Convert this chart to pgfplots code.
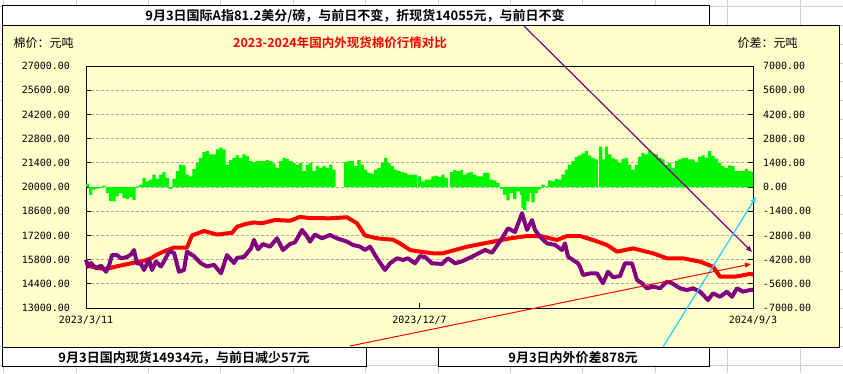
\documentclass[border=0pt]{standalone}
\usepackage{pgfplots}
\pgfplotsset{compat=1.18}
\usepackage{pgfplotstable}
\usepackage{fontspec}
\usetikzlibrary{arrows.meta}
\setmainfont{Liberation Sans}
\setmonofont{DejaVu Sans Mono}
\newfontfamily\cjk{Noto Sans CJK SC}[BoldFont={Noto Sans CJK SC Bold}]
\definecolor{chartbg}{RGB}{255,255,204}
\definecolor{xlgrid}{RGB}{208,208,208}
\definecolor{dompr}{RGB}{255,0,0}
\definecolor{intpr}{RGB}{128,0,128}
\definecolor{barg}{RGB}{0,245,0}
\definecolor{cyanarr}{RGB}{51,204,255}

\pgfplotstableread{
x y
0 15450
10 15350
18 15250
23 15300
34 15450
48 15620
59 15750
65 15870
70 16060
79 16300
88 16500
101 16500
106 17200
118 17450
131 17250
146 17350
151 17700
159 17850
168 17950
176 17900
189 18090
204 18050
214 18270
224 18200
244 18190
261 18250
271 17900
279 17200
291 17030
307 16950
314 16740
324 16355
334 16260
347 16165
357 16165
381 16545
407 16840
424 17030
441 17165
454 17165
471 16935
481 17165
494 17165
507 16935
521 16645
531 16260
547 16450
567 16165
581 15875
597 15875
614 15680
627 15390
634 14810
649 14810
664 14970
667 14934
}\domestic

\pgfplotstableread{
x y
0 15800
2 15390
5 15600
10 15300
15 15450
20 15100
23 15450
26 16060
31 16060
35 15875
41 15950
45 16100
48 16355
51 15585
55 15550
58 15200
63 15800
66 15200
70 15700
75 15400
78 15700
83 16260
88 16200
93 15100
98 15200
101 16260
108 16000
115 15585
121 15400
128 15500
135 15010
141 16060
148 15600
151 15900
158 15950
165 16450
168 16935
172 16400
177 16700
184 16545
191 17030
197 16355
204 16700
209 16800
216 17515
221 17150
224 16840
229 17250
236 17030
244 17225
251 17030
261 16840
267 16645
274 16550
279 16355
284 16550
291 15875
299 15200
304 15585
311 15875
317 15780
322 15875
329 15585
334 16000
339 15950
346 15585
356 15550
362 15875
369 15585
376 15700
386 15970
399 16355
406 16200
416 17030
422 17610
429 17400
436 18480
441 17515
446 18090
449 17515
454 17125
461 16740
469 16650
476 16355
479 16740
482 15970
489 15700
492 15585
494 15390
497 14910
504 15000
511 15000
517 14430
522 15100
527 14780
534 14850
539 15585
546 15585
551 14620
556 14430
561 14140
567 14240
574 14140
581 14525
586 14430
594 14140
601 14040
607 14140
614 13945
622 13460
627 13850
634 13650
641 13945
646 13650
651 14140
657 13945
664 14040
667 14055
}\international

\pgfplotstableread{
x y
1.3 195
4.7 -450
8 -155
11.3 -100
14.7 -60
18 80
21.3 -350
24.7 -800
28 -835
31.3 -545
34.7 -350
38 -640
41.3 -700
44.7 -585
48 -740
51.3 40
54.7 135
58 525
61.3 330
64.7 430
68 720
71.3 465
74.7 720
78 855
81.3 525
84.7 -115
88 465
91.3 915
94.7 1300
98 1245
101.3 720
104.7 620
108 1050
111.3 1400
114.7 1690
118 2020
121.3 2080
124.7 1885
128 1885
131.3 2180
134.7 2275
138 2180
141.3 1300
144.7 1555
148 1690
151.3 1830
154.7 1690
158 1885
161.3 1790
164.7 1500
168 1440
171.3 1500
174.7 1500
178 1500
181.3 1555
184.7 1500
188 1360
191.3 1110
194.7 1500
198 1690
201.3 1630
204.7 1500
208 1400
211.3 1300
214.7 1400
218 915
221.3 1300
224.7 1400
228 915
231.3 1205
234.7 1110
238 1205
241.3 1110
244.7 1300
248 1010
259.7 1440
263 1500
266.3 1500
269.7 1205
273 1555
276.3 1300
279.7 1010
283 815
286.3 780
289.7 1010
293 1110
296.3 1400
299.7 1690
303 1400
306.3 1205
309.7 1010
313 915
316.3 855
319.7 815
323 720
326.3 720
329.7 720
333.7 620
337 330
340.3 430
343.7 430
347 620
350.3 660
353.7 585
357 720
360.3 525
365.3 855
368.7 970
372 915
375.3 970
378.7 720
382 815
385.3 855
388.7 720
392 620
395.3 620
398.7 815
402 815
405.3 430
408.7 390
412 235
415.3 -115
418.7 -450
422 -780
425.3 -350
428.7 -700
432 -255
435.3 -450
437 -1225
438.7 -1320
442 -835
445.3 -350
447 -895
450.3 -350
453.7 -155
457 135
460.3 40
463.7 390
467 330
470.3 465
473.7 430
477 720
480.3 1010
483.7 1300
487 1500
490.3 1750
493.7 1830
497 1945
500.3 2080
503.7 1830
507 1690
510.3 1595
514.7 2335
517 1595
520.3 2335
523.7 1885
527 1690
530.3 1595
533.7 1400
537 1630
540.3 1690
543.7 1300
547 1010
550.3 1300
553.7 1750
557 1980
560.3 1885
563.7 2140
567 1980
570.3 1885
573.7 1690
577 1595
580.3 1300
583.7 1400
587 1110
590.3 1500
593.7 1595
597 1690
600.3 1690
603.7 1595
607 1595
610.3 1440
613.7 1750
617 1830
620.3 1690
623.7 2080
627 1790
630.3 1630
633.7 1400
637 1205
640.3 1110
643.7 1245
647 1205
650.3 915
653.7 915
657 915
660.3 1050
663.7 915
666.5 878
}\spread

\begin{document}
\begin{tikzpicture}
\useasboundingbox (0pt,0pt) rectangle (843pt,373pt);
\begin{scope}[x=1pt,y=1pt]
\fill[white] (0,0) rectangle (843,373);
% spreadsheet cell grid
\foreach \k in {0,...,19} {\draw[xlgrid,line width=0.8pt] (0,{373-6.3-18.9*\k}) -- (843,{373-6.3-18.9*\k});}
\foreach \k in {0,...,11} {\draw[xlgrid,line width=0.8pt] ({3.6+72.4*\k},0) -- ({3.6+72.4*\k},373);}
% chart area
\filldraw[fill=chartbg,draw=black,line width=1pt] (2,{373-25.2}) rectangle (839,{373-347.4});
% text boxes
\filldraw[fill=white,draw=black,line width=1pt] (2,{373-6}) rectangle (709,{373-25.2});
\filldraw[fill=white,draw=black,line width=1pt] (2,{373-347.4}) rectangle (366,{373-366.3});
\filldraw[fill=white,draw=black,line width=1pt] (438,{373-347.4}) rectangle (709,{373-366.3});
\node[font=\cjk\bfseries\fontsize{13}{14}\selectfont] at (355,{373-16}) {9月3日国际A指81.2美分/磅，与前日不变，折现货14055元，与前日不变};
\node[font=\cjk\bfseries\fontsize{13}{14}\selectfont] at (184,{373-358}) {9月3日国内现货14934元，与前日减少57元};
\node[font=\cjk\bfseries\fontsize{13}{14}\selectfont] at (573,{373-358}) {9月3日内外价差878元};
\node[font=\cjk\fontsize{12}{13}\selectfont, anchor=west] at (10,{373-43}) {棉价：元吨};
\node[font=\cjk\fontsize{12}{13}\selectfont, anchor=west] at (734,{373-43}) {价差：元吨};
\node[font=\cjk\bfseries\fontsize{12.5}{13}\selectfont, text=dompr] at (340,{373-43}) {2023-2024年国内外现货棉价行情对比};
\end{scope}

\begin{axis}[
  at={(86pt,65pt)}, anchor=south west,
  scale only axis, width=667pt, height=242pt,
  xmin=0, xmax=667, ymin=13000, ymax=27000,
  ytick={13000,14400,...,27000},
  xtick={0,333.5,667},
  xticklabels={2023/3/11,2023/12/7,2024/9/3},
  xtick pos=lower, ytick pos=left,
  tick align=inside,
  major tick length=5pt,
  tick style={black, line width=0.8pt},
  axis line style={black, line width=0.9pt},
  ymajorgrids,
  major grid style={gray!65, dash pattern=on 3pt off 2pt, line width=0.8pt},
  scaled y ticks=false,
  ticklabel style={font=\ttfamily\fontsize{10}{12}\selectfont},
  yticklabel style={xshift=-12.5pt, /pgf/number format/.cd, fixed, fixed zerofill, precision=2, 1000 sep={}, assume math mode=true},
  xticklabel style={yshift=-5pt},
  clip=false,
]
\addplot[dompr, line width=4pt, line join=round] table {\domestic};
\addplot[intpr, line width=4pt, line join=round] table {\international};
\end{axis}

\begin{axis}[
  at={(86pt,65pt)}, anchor=south west,
  scale only axis, width=667pt, height=242pt,
  xmin=0, xmax=667, ymin=-7000, ymax=7000,
  ytick={-7000,-5600,...,7000},
  axis x line=none,
  axis y line*=right,
  tick align=inside,
  major tick length=5pt,
  tick style={black, line width=0.8pt},
  axis line style={black, line width=0.9pt},
  scaled y ticks=false,
  ticklabel style={font=\ttfamily\fontsize{10}{12}\selectfont},
  yticklabel style={xshift=6.5pt, /pgf/number format/.cd, fixed, fixed zerofill, precision=2, 1000 sep={}, assume math mode=true},
]
\addplot[ybar, bar width=3.1, bar shift=0pt, fill=barg, draw=none] table {\spread};
\end{axis}

\begin{scope}[x=1pt,y=1pt]
% annotation arrows
\draw[intpr, line width=1.2pt, -{Triangle[length=6pt,width=5pt]}] (524,{373-26}) -- (752,{373-252});
\draw[cyanarr, line width=1.3pt, -{Triangle[length=6pt,width=5pt]}] (663,{373-347}) -- (756,{373-197});
\draw[dompr, line width=1pt, -{Triangle[length=6pt,width=5pt]}] (350,{373-346}) -- (751,{373-264});
\end{scope}
\end{tikzpicture}
\end{document}
